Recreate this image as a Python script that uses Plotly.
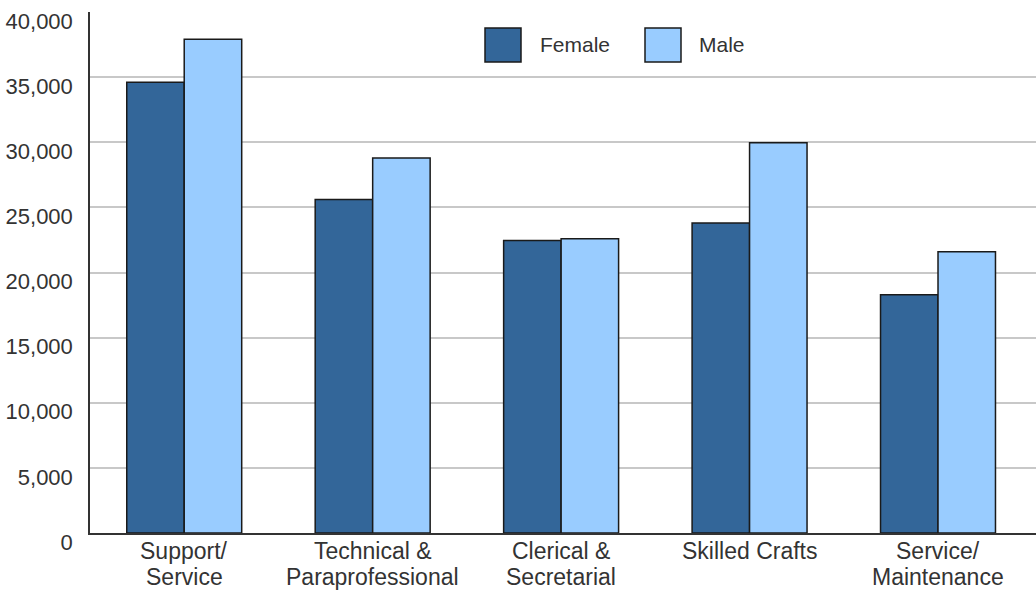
import plotly.graph_objects as go

# Average salary by job category and gender
categories = [
    "Support/<br>Service",
    "Technical &<br>Paraprofessional",
    "Clerical &<br>Secretarial",
    "Skilled Crafts",
    "Service/<br>Maintenance",
]
female = [34600, 25600, 22450, 23800, 18300]
male = [37900, 28800, 22600, 29970, 21600]
series_names = ["Female", "Male"]
series_colors = ["#336699", "#99ccff"]
y_ticks = [0, 5000, 10000, 15000, 20000, 25000, 30000, 35000, 40000]

W, H = 1036, 592
M_L, M_R, M_T, M_B = 90, 0, 12, 59
PLOT_W = W - M_L - M_R
PLOT_H = H - M_T - M_B
FONT = "Liberation Sans, Arial, sans-serif"
TEXT_COLOR = "#333333"


def px_x(px):
    return (px - M_L) / PLOT_W


def px_y(py):
    return (H - M_B - py) / PLOT_H


fig = go.Figure()
for name, vals, col in zip(series_names, [female, male], series_colors):
    fig.add_trace(go.Bar(
        x=categories, y=vals, name=name,
        marker=dict(color=col, line=dict(color="#1a1a1a", width=1.5)),
        showlegend=False,
    ))

shapes = []
annotations = []

# Hand-drawn legend with large swatches
legend_items = [(485, 540), (645, 699)]
for (box_x, text_x), name, col in zip(legend_items, series_names, series_colors):
    shapes.append(dict(
        type="rect", xref="paper", yref="paper",
        x0=px_x(box_x), x1=px_x(box_x + 36), y0=px_y(62), y1=px_y(28),
        fillcolor=col, line=dict(color="#1a1a1a", width=1.5), layer="above",
    ))
    annotations.append(dict(
        xref="paper", yref="paper", x=px_x(text_x - 2), y=px_y(45),
        xanchor="left", yanchor="middle", text=name, showarrow=False,
        font=dict(family=FONT, size=21, color=TEXT_COLOR),
    ))

# Category labels, one line at a time for tight line spacing
line_centers = [551, 577]
for cat in categories:
    for i, line in enumerate(cat.split("<br>")):
        annotations.append(dict(
            xref="x", yref="paper", x=cat, y=px_y(line_centers[i]),
            xanchor="center", yanchor="middle", text=line, showarrow=False,
            font=dict(family=FONT, size=23, color=TEXT_COLOR),
        ))

fig.update_layout(
    width=W, height=H,
    margin=dict(l=M_L, r=M_R, t=M_T, b=M_B, pad=0, autoexpand=False),
    paper_bgcolor="white", plot_bgcolor="white",
    barmode="group", bargap=0.39, bargroupgap=0,
    shapes=shapes, annotations=annotations,
    font=dict(family=FONT, color=TEXT_COLOR),
)
fig.update_xaxes(
    range=[-0.5, 4.52], showline=True, linecolor="#333333", linewidth=1.5,
    showgrid=False, ticks="", showticklabels=False, automargin=False,
)
fig.update_yaxes(
    range=[0, 40000], tickvals=y_ticks, tickformat=",d",
    showline=True, linecolor="#333333", linewidth=1.5,
    showgrid=True, gridcolor="#c8c8c8", gridwidth=1.5, zeroline=False,
    ticks="", tickfont=dict(size=22, color=TEXT_COLOR),
    ticklabelstandoff=11, ticklabelshift=9, automargin=False,
)

fig.write_html("out.html")
